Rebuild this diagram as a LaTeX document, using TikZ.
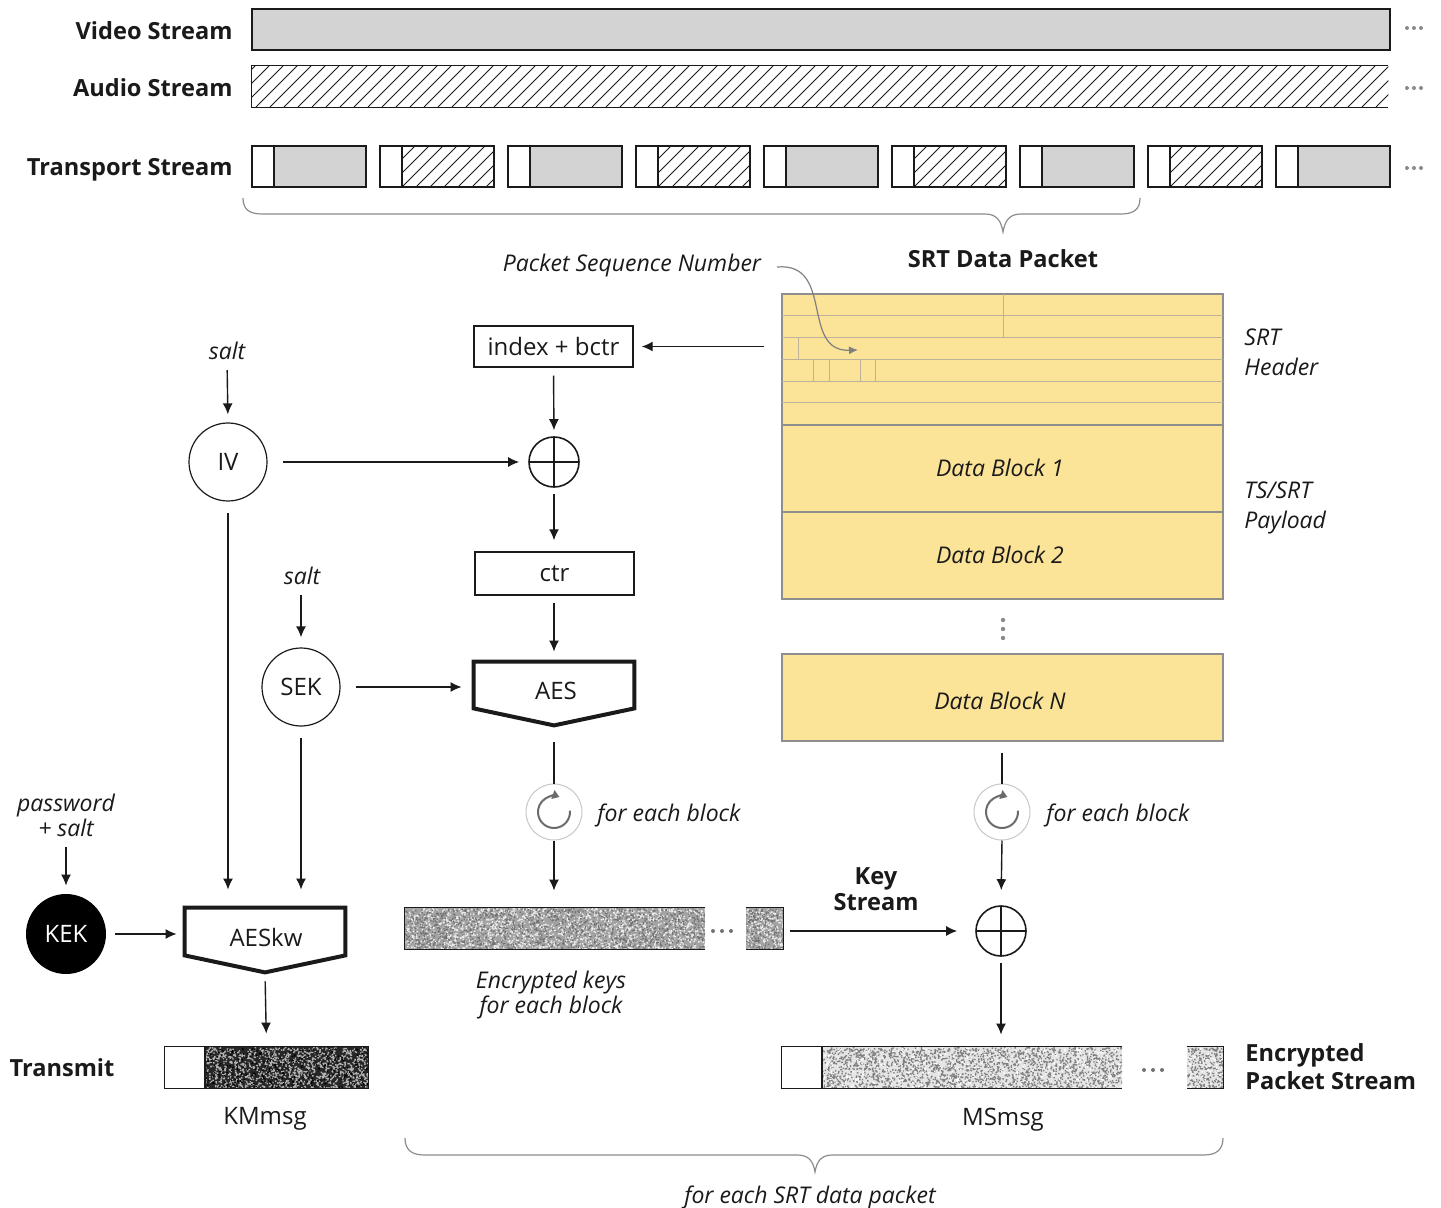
\documentclass[tikz,border=0pt]{standalone}
\usepackage{fontspec}
\setmainfont{Open Sans}
\usetikzlibrary{arrows.meta,calc}
\definecolor{vgray}{HTML}{D3D3D3}
\definecolor{pktyel}{HTML}{FBE398}
\definecolor{pktline}{HTML}{BDB39B}
\definecolor{pktborder}{HTML}{8E8E8E}
\definecolor{ink}{HTML}{1A1A1A}
\definecolor{brgray}{HTML}{8C8C8C}
\definecolor{dotgray}{HTML}{8A8A8A}
\newcommand{\noisefill}[9]{%
  \begin{scope}
    \clip (#1,#2) rectangle ++(#3,#4);
    \fill[#5] (#1,#2) rectangle ++(#3,#4);
    \fill[#6] \foreach \k in {1,...,#7}{ ({#1+#3*rnd},{#2+#4*rnd}) rectangle ++(1.4,1.4) };
    \fill[#8] \foreach \k in {1,...,#9}{ ({#1+#3*rnd},{#2+#4*rnd}) rectangle ++(1.4,1.4) };
  \end{scope}}
\tikzset{
  arr/.style={line width=0.7pt, draw=ink, -{Latex[length=5.5pt,width=5pt]}},
  plainline/.style={line width=0.7pt, draw=ink},
  lbl/.style={font=\fontsize{11.8}{14}\selectfont\bfseries, text=ink, inner sep=0pt},
  itl/.style={font=\fontsize{11.5}{12}\selectfont\itshape, text=ink, inner sep=0pt},
  txt/.style={font=\fontsize{12}{13}\selectfont, text=ink, inner sep=0pt},
  rbox/.style={draw=ink, line width=0.7pt, inner sep=0pt},
  circ/.style={circle, draw=ink, line width=0.6pt, inner sep=0pt},
  xor/.style={circle, draw=ink, line width=0.8pt, minimum size=25pt, inner sep=0pt,
    path picture={\draw[ink,line width=0.8pt] (path picture bounding box.north) -- (path picture bounding box.south) (path picture bounding box.west) -- (path picture bounding box.east);}},
  loopc/.style={circle, draw=black!22, line width=0.5pt, minimum size=28pt, inner sep=0pt},
  hatch/.style={line width=0.5pt, draw=ink},
  pkt/.style={fill=pktyel, draw=pktborder, line width=0.6pt, minimum width=220.5pt, inner sep=0pt},
  hline/.style={draw=pktline, line width=0.5pt},
  brace/.style={draw=brgray, line width=0.6pt},
  thickshape/.style={draw=ink, line width=2pt, line join=miter},
  barborder/.style={draw=ink, line width=0.7pt},
}
\newcommand{\loopicon}[1]{%
  \draw[black!58, line width=1pt, -{Triangle[length=3.5pt,width=4.5pt]}]
    ([shift={(5:8pt)}]#1.center) arc[start angle=5, end angle=-290, radius=8pt];}
\begin{document}
\begin{tikzpicture}[x=0.5pt,y=-0.5pt]
\useasboundingbox (0,0) rectangle (1441,1208);

% ---------- streams ----------
\node[lbl, anchor=east] (vlab) at (233,31) {Video Stream};
\node[lbl, anchor=east] (alab) at (233,88) {Audio Stream};
\node[lbl, anchor=east] (tlab) at (233,170) {Transport Stream};

\node[draw=ink, line width=0.7pt, fill=vgray, minimum width=569pt, minimum height=20.5pt, inner sep=0pt] (video) at (821,29.5) {};

\node[minimum width=568pt, minimum height=20.5pt, inner sep=0pt] (audio) at (820,86.5) {};
\begin{scope}
  \clip (audio.south west) rectangle (audio.north east);
  \foreach \h in {200,214,...,1400} \draw[hatch] (\h,107) -- ++(41,-41);
\end{scope}
\draw[line width=0.7pt, draw=ink] (audio.north east) -- (audio.north west) -- (audio.south west) -- (audio.south east);

\foreach \i in {0,...,8}{
  \pgfmathsetmacro\xa{252+128*\i}
  \pgfmathsetmacro\xb{\xa+22}
  \pgfmathsetmacro\xc{\xa+114}
  \ifodd\i
    \begin{scope}
      \clip (\xb,146) rectangle (\xc,187);
      \foreach \h in {-42,-28,...,130} \draw[hatch] (\xb+\h,187) -- ++(41,-41);
    \end{scope}
  \else
    \fill[vgray] (\xb,146) rectangle (\xc,187);
  \fi
  \draw[line width=0.7pt, draw=ink] (\xa,146) rectangle (\xc,187);
  \draw[line width=0.7pt, draw=ink] (\xb,146) -- (\xb,187);
}
\foreach \yy in {28,88,168}
  \foreach \dx in {0,7,14}
    \fill[dotgray] (1407+\dx,\yy) circle[radius=1pt];

% top brace
\draw[brace] (243,198) .. controls (243,210) and (250,214) .. (262,214) -- (985,214)
  .. controls (996,214) and (1001,220) .. (1003,232)
  .. controls (1005,220) and (1010,214) .. (1021,214) -- (1121,214)
  .. controls (1133,214) and (1140,210) .. (1140,198);

% ---------- SRT packet ----------
\node[lbl] (srtt) at (1003,259) {SRT Data Packet};
\node[pkt, minimum height=65.5pt] (hdr) at (1002.5,359.5) {};
\foreach \yy in {316,338,360,381.5,403}
  \draw[hline] (782,\yy) -- (1223,\yy);
\draw[hline] (1003.3,294) -- (1003.3,338);
\draw[hline] (798.3,338) -- (798.3,360);
\foreach \xx in {813.3,829,860,875.7}
  \draw[hline] (\xx,360) -- (\xx,381.5);
\draw[draw=pktborder, line width=0.6pt] (hdr.south west) rectangle (hdr.north east);
\node[pkt, minimum height=43.5pt] (db1) at (1002.5,468.5) {};
\node[pkt, minimum height=43.5pt] (db2) at (1002.5,555.5) {};
\node[pkt, minimum height=43.5pt] (dbn) at (1002.5,697.5) {};
\node[itl] at (1000,468) {Data Block 1};
\node[itl] at (1000,555) {Data Block 2};
\node[itl] at (1000,701) {Data Block N};
\foreach \yy in {620,629,638}
  \fill[dotgray] (1003,\yy) circle[radius=1.1pt];
\node[itl, anchor=west, align=left, font=\fontsize{11.5}{15}\selectfont\itshape] (srth) at (1244,352) {SRT\\Header};
\node[itl, anchor=west, align=left, font=\fontsize{11.5}{15}\selectfont\itshape] (tsp) at (1244,508) {TS/SRT\\Payload};

% packet sequence number
\node[itl] (psn) at (632,266) {Packet Sequence Number};
\draw[draw=black!50, line width=0.6pt, -{Latex[length=4.5pt,width=4pt]}]
  (777,267) .. controls (835,262) and (800,352) .. (858,350);

% ---------- counter column ----------
\node[rbox, txt, minimum width=79.5pt, minimum height=20.5pt] (idx) at (553.5,346.5) {index + bctr};
\draw[arr, shorten <=8.5pt, shorten >=4pt] (hdr.west |- idx.east) -- (idx.east);
\node[xor] (x1) at (554,462) {};
\draw[arr, shorten <=4pt, shorten >=3pt] (idx.south) -- (x1.north);
\node[rbox, txt, minimum width=79.5pt, minimum height=21.5pt] (ctr) at (554.5,573.5) {ctr};
\draw[arr, shorten <=3pt, shorten >=5.5pt] (x1.south) -- (x1.south |- ctr.north);

\node[minimum width=80pt, minimum height=31.5pt, inner sep=0pt] (aes) at (554,693.5) {};
\draw[thickshape] (aes.north west) -- (aes.north east) -- ($(aes.south east)+(0,-17)$) -- (aes.south) -- ($(aes.south west)+(0,-17)$) -- cycle;
\node[txt] at (556,691) {AES};
\draw[arr, shorten <=3.5pt, shorten >=5pt] (ctr.south -| x1.south) -- (x1.south |- aes.north);

% IV and salt
\node[itl] (salt1) at (227,351) {salt};
\node[circ, minimum size=39pt, txt] (iv) at (228,462) {IV};
\draw[arr, shorten <=5pt, shorten >=4pt] (salt1.south) -- (iv.north);
\draw[arr, shorten <=7.5pt, shorten >=4.5pt] (iv.east) -- (x1.west);

\node[itl] (salt2) at (302,576) {salt};
\node[circ, minimum size=39pt, txt] (sek) at (301,687) {SEK};
\draw[arr, shorten <=5pt, shorten >=5pt] (salt2.south -| sek.north) -- (sek.north);
\draw[arr, shorten <=7.5pt, shorten >=6pt] (sek.east) -- (sek.east -| aes.west);

% loop 1
\node[loopc] (lp1) at (554,812) {};
\loopicon{lp1}
\node[itl, anchor=west] (feb1) at (597,815) {for each block};
\draw[plainline, shorten <=8.5pt] (aes.south) -- (lp1.north);

% key stream bar
\node[minimum width=150pt, minimum height=20.5pt, inner sep=0pt] (ks) at (555,928.5) {};
\node[minimum width=18.5pt, minimum height=20.5pt, inner sep=0pt] (ks2) at (764.5,928.5) {};
\pgfmathsetseed{7}
\noisefill{405}{908}{300}{41}{black!36}{black!8}{1800}{black!55}{1300}
\noisefill{746}{908}{37}{41}{black!36}{black!8}{230}{black!55}{170}
\draw[barborder] (ks.north east) -- (ks.north west) -- (ks.south west) -- (ks.south east);
\draw[barborder] (ks2.north west) -- (ks2.north east) -- (ks2.south east) -- (ks2.south west);
\foreach \dx in {713,722,731}
  \fill[black!55] (\dx,931) circle[radius=1pt];
\draw[arr, shorten >=8.5pt] (lp1.south) -- (lp1.south |- ks.north);
\node[itl, align=center, font=\fontsize{11.5}{11.5}\selectfont\itshape] (enck) at (551,995) {Encrypted keys\\for each block};

% xor 2
\node[xor] (x2) at (1001,931) {};
\draw[arr, shorten <=3.5pt, shorten >=9pt] (x2.west -| ks2.east) -- (x2.west);
\node[lbl, align=center, font=\fontsize{11.8}{13}\selectfont\bfseries] (kst) at (876,889) {Key\\Stream};

\node[loopc] (lp2) at (1002,812) {};
\loopicon{lp2}
\node[itl, anchor=west] (feb2) at (1046,815) {for each block};
\draw[plainline, shorten <=5.5pt] (dbn.south -| lp2.north) -- (lp2.north);
\draw[arr, shorten >=7.5pt] (lp2.south) -- (x2.north);

% MSmsg
\node[minimum width=170pt, minimum height=20.5pt, inner sep=0pt] (ms) at (952,1067.5) {};
\node[minimum width=18pt, minimum height=20.5pt, inner sep=0pt] (ms2) at (1205,1067.5) {};
\noisefill{822}{1047}{300}{41}{black!10}{black!50}{2200}{white}{400}
\noisefill{1187}{1047}{36}{41}{black!10}{black!50}{270}{white}{50}
\fill[white] (782,1047) rectangle (822,1088);
\draw[barborder] (ms.north east) -- (ms.north west) -- (ms.south west) -- (ms.south east);
\draw[barborder] (822,1047) -- (822,1088);
\draw[barborder] (ms2.north west) -- (ms2.north east) -- (ms2.south east) -- (ms2.south west);
\foreach \dx in {1144,1153,1162}
  \fill[black!55] (\dx,1070) circle[radius=1pt];
\draw[arr, shorten <=3pt, shorten >=6pt] (x2.south) -- (x2.south |- ms.north);
\node[txt] (msl) at (1003,1120) {MSmsg};
\node[lbl, anchor=west, align=left, font=\fontsize{11.8}{14}\selectfont\bfseries] (eps) at (1245,1067) {Encrypted\\Packet Stream};

% ---------- key wrap ----------
\node[itl, align=center, font=\fontsize{11.5}{11}\selectfont\itshape] (pw) at (66,815) {password\\+ salt};
\node[circle, fill=black, inner sep=0pt, minimum size=40pt, text=white, font=\fontsize{12}{13}\selectfont] (kek) at (66,934) {KEK};
\draw[arr, shorten <=5pt, shorten >=4pt] (pw.south) -- (kek.north);

\node[minimum width=80pt, minimum height=32pt, inner sep=0pt] (aeskw) at (265,940) {};
\draw[thickshape] (aeskw.north west) -- (aeskw.north east) -- ($(aeskw.south east)+(0,-17)$) -- (aeskw.south) -- ($(aeskw.south west)+(0,-17)$) -- cycle;
\node[txt] at (266,937) {AESkw};
\draw[arr, shorten <=4.5pt, shorten >=4pt] (kek.east) -- (kek.east -| aeskw.west);
\draw[arr, shorten <=5.5pt, shorten >=9pt] (iv.south) -- (iv.south |- aeskw.north);
\draw[arr, shorten <=5.5pt, shorten >=9pt] (sek.south) -- (sek.south |- aeskw.north);

% KMmsg
\node[minimum width=101.5pt, minimum height=20.5pt, inner sep=0pt] (km) at (266.5,1067.5) {};
\noisefill{205}{1047}{163}{41}{black!85}{black!30}{1300}{black}{300}
\fill[white] (165,1047) rectangle (205,1088);
\draw[barborder] (km.south west) rectangle (km.north east);
\draw[barborder] (205,1047) -- (205,1088);
\draw[arr, shorten <=4.5pt, shorten >=6.5pt] (aeskw.south) -- (km.north);
\node[txt] (kml) at (265,1119) {KMmsg};
\node[lbl] (tx) at (62,1068) {Transmit};

% bottom brace
\draw[brace] (405,1138) .. controls (405,1150) and (412,1155) .. (424,1155) -- (797,1155)
  .. controls (808,1155) and (813,1160) .. (815,1172)
  .. controls (817,1160) and (822,1155) .. (833,1155) -- (1204,1155)
  .. controls (1216,1155) and (1223,1150) .. (1223,1138);
\node[itl] (fesp) at (810,1197) {for each SRT data packet};
\end{tikzpicture}
\end{document}
